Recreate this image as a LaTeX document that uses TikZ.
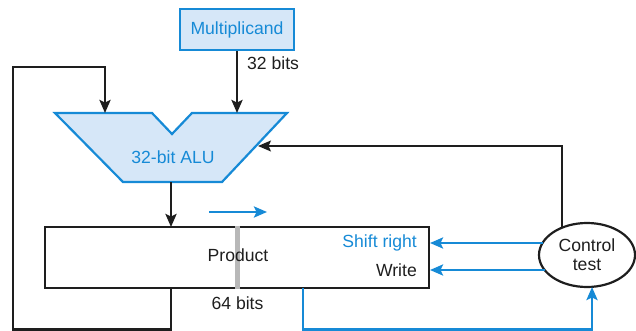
\documentclass[tikz,border=0pt]{standalone}
\usepackage{fontspec}
\setmainfont{Liberation Sans}
\usetikzlibrary{arrows.meta,shapes.geometric}
\definecolor{hwblue}{RGB}{22,138,214}
\definecolor{hwfill}{RGB}{214,231,248}
\definecolor{ink}{RGB}{30,30,30}
\tikzset{
  txt/.style={font=\fontsize{17.6}{20}\selectfont, text=ink, inner sep=0pt},
  bluetxt/.style={txt, text=hwblue},
  wire/.style={draw=ink, line width=2.6pt},
  thinwire/.style={draw=ink, line width=1.5pt},
  bluewire/.style={draw=hwblue, line width=2.6pt},
  tip/.style={-{Stealth[length=13pt,width=11pt,inset=2.5pt]}},
  regbox/.style={draw=ink, line width=2.2pt, rectangle},
}
\begin{document}
\begin{tikzpicture}[x=1pt,y=-1pt]
  \useasboundingbox (0,0) rectangle (636,331);

  % Multiplicand register
  \node[bluetxt, draw=hwblue, fill=hwfill, line width=2pt,
        minimum width=114pt, minimum height=41pt] (mult) at (237,30) {Multiplicand};

  % 32-bit ALU outline with its input notch
  \draw[draw=hwblue, fill=hwfill, line width=2.2pt, line join=miter]
    (55,113) -- (152,113) -- (172,134) -- (192,113) -- (287,113)
    -- (222,182) -- (123,182) -- cycle;
  \node[bluetxt] (alu) at (173,157) {32-bit ALU};
  \coordinate (aluA) at (105,113);
  \coordinate (aluB) at (237,113);
  \coordinate (aluOut) at (171,182);
  \coordinate (aluCtl) at (258,146);

  % Product register with its split marker
  \node[regbox, minimum width=384pt, minimum height=61pt] (prod) at (237,257.5) {};
  \draw[draw=black!28, line width=5pt] (prod.north -| 237,0) -- (prod.south -| 237,0);
  \node[txt] (prodlbl) at (238,255) {Product};
  \node[bluetxt, anchor=east] (shr) at (417,243) {Shift right};
  \node[txt, anchor=east] (wr) at (417,270) {Write};
  \node[txt] (w64) at (237.5,303) {64 bits};
  \coordinate (prodIn) at (171,227);
  \coordinate (prodOut) at (171,288);
  \coordinate (prodLow) at (303,288);
  \coordinate (shrIn) at (430,243);
  \coordinate (wrIn) at (430,270);

  % shift direction marker
  \coordinate (dirA) at (209,212);
  \coordinate (dirB) at (267,212);
  \draw[bluewire, tip] (dirA) -- (dirB);

  % Control unit
  \node[draw=ink, line width=2.2pt, ellipse, minimum width=96pt, minimum height=64pt,
        inner sep=0pt, txt, align=center] (ctl) at (587,255) {Control\\[-1pt]test};
  \coordinate (ctlTop) at (562,228);
  \coordinate (ctlSr) at (543,243);
  \coordinate (ctlWr) at (545,270);
  \coordinate (ctlIn) at (592,287);

  % data path
  \draw[wire, tip] (mult.south) -- (aluB);
  \node[txt, anchor=west] (w32) at (247,63) {32 bits};
  \draw[wire, tip] (aluOut) -- (prodIn);
  \coordinate (loopA) at (13,329.5);
  \coordinate (loopB) at (13,67);
  \draw[wire, tip, line join=miter] (prodOut) |- (loopA) -- (loopB) -| (aluA);

  % control path
  \draw[thinwire, tip] (ctlTop) |- (aluCtl);
  \draw[bluewire, tip] (ctlSr) -- (shrIn);
  \draw[bluewire, tip] (ctlWr) -- (wrIn);
  \coordinate (lowTurn) at (592,329.5);
  \draw[bluewire, tip] (prodLow) |- (lowTurn) -- (ctlIn);
\end{tikzpicture}
\end{document}
